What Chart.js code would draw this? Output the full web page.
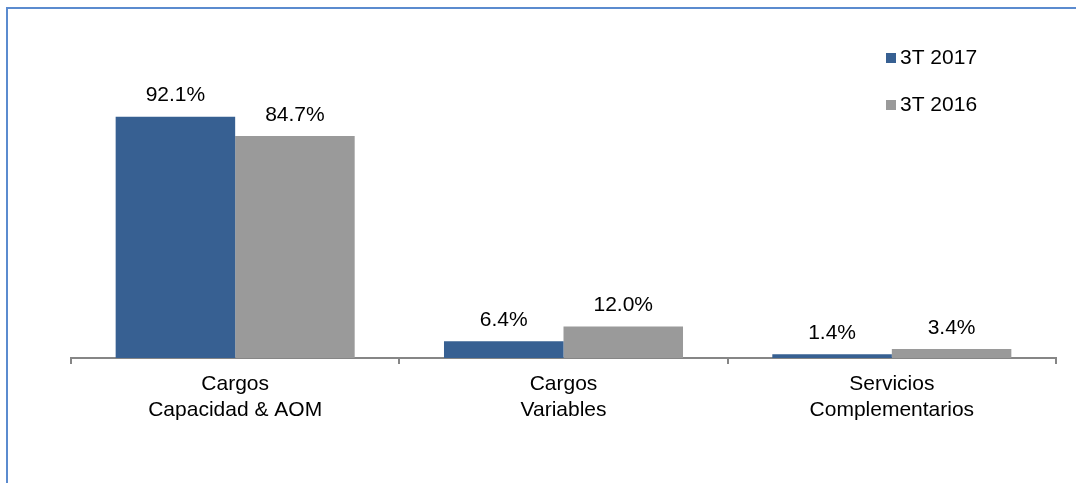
<!DOCTYPE html>
<html>
<head>
<meta charset="utf-8">
<script src="https://cdn.jsdelivr.net/npm/chart.js@4/dist/chart.umd.min.js"></script>
<style>
  body { margin: 0; background: #fff; }
  #frame { position: absolute; left: 6px; top: 7px; width: 1070px; height: 476px;
           border-top: 2px solid #5b8bcf; border-left: 2px solid #5b8bcf; box-sizing: border-box; }
  #wrap { position: absolute; left: 0; top: 0; width: 1076px; height: 483px; }
</style>
</head>
<body>
<div id="frame"></div>
<div id="wrap"><canvas id="barChart"></canvas></div>
<script>
// categories and series
const categories = [['Cargos', 'Capacidad & AOM'], ['Cargos', 'Variables'], ['Servicios', 'Complementarios']];
const seriesNames = ['3T 2017', '3T 2016'];
const values2017 = [92.1, 6.4, 1.4];
const values2016 = [84.7, 12.0, 3.4];
const barColors = ['#376092', '#9a9a9a'];

const FONT = '"Liberation Sans", Arial, sans-serif';

// value labels above each bar
const valueLabels = {
  id: 'valueLabels',
  afterDatasetsDraw(chart) {
    const ctx = chart.ctx;
    ctx.save();
    ctx.font = '21px ' + FONT;
    ctx.fillStyle = '#000';
    ctx.textAlign = 'center';
    ctx.textBaseline = 'middle';
    chart.data.datasets.forEach((ds, i) => {
      chart.getDatasetMeta(i).data.forEach((bar, j) => {
        ctx.fillText(ds.data[j].toFixed(1) + '%', bar.x, bar.y - 21);
      });
    });
    ctx.restore();
  }
};

// legend in the top right corner
const cornerLegend = {
  id: 'cornerLegend',
  afterDraw(chart) {
    const ctx = chart.ctx;
    ctx.save();
    ctx.font = '21px ' + FONT;
    ctx.textBaseline = 'middle';
    chart.data.datasets.forEach((ds, i) => {
      const y = 58 + i * 47;
      ctx.fillStyle = ds.backgroundColor;
      ctx.fillRect(886, y - 5, 10, 10);
      ctx.fillStyle = '#000';
      ctx.fillText(ds.label, 900, y);
    });
    ctx.restore();
  }
};

const chartCtx = document.getElementById('barChart').getContext('2d');
const chart = new Chart(chartCtx, {
  type: 'bar',
  data: {
    labels: categories,
    datasets: [
      { label: seriesNames[0], data: values2017, backgroundColor: barColors[0] },
      { label: seriesNames[1], data: values2016, backgroundColor: barColors[1] }
    ]
  },
  options: {
    responsive: true,
    maintainAspectRatio: false,
    animation: false,
    datasets: { bar: { categoryPercentage: 0.728, barPercentage: 1.0 } },
    layout: { padding: { left: 71, right: 20, top: 96, bottom: 0 } },
    plugins: { legend: { display: false }, tooltip: { enabled: false } },
    scales: {
      x: {
        afterFit(scale) { scale.height = 125; },
        grid: { offset: true, drawOnChartArea: false, drawTicks: true, tickLength: 6, color: '#868686', lineWidth: 2 },
        border: { display: true, color: '#868686', width: 2 },
        ticks: { color: '#000', font: { family: FONT, size: 21, lineHeight: 1.2 }, padding: 8, maxRotation: 0 }
      },
      y: { display: false, min: 0, max: 100 }
    }
  },
  plugins: [valueLabels, cornerLegend]
});
</script>
</body>
</html>
